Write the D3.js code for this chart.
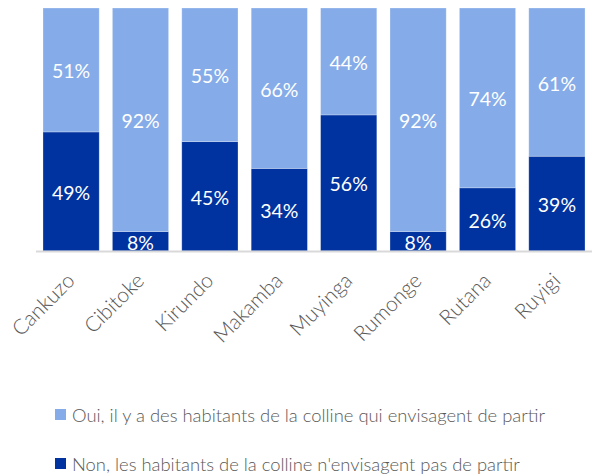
<!DOCTYPE html>
<html>
<head>
<meta charset="utf-8">
<script src="https://cdn.jsdelivr.net/npm/d3@7"></script>
<style>
  html, body { margin: 0; padding: 0; background: #ffffff; }
  svg { display: block; font-family: Lato, "Open Sans", sans-serif; }
</style>
</head>
<body>
<div id="chart"></div>
<script>
// provinces
const provinces = ['Cankuzo', 'Cibitoke', 'Kirundo', 'Makamba', 'Muyinga', 'Rumonge', 'Rutana', 'Ruyigi'];
// % "Non" (bottom segment)
const nonValues = [49, 8, 45, 34, 56, 8, 26, 39];
// % "Oui" (top segment)
const ouiValues = [51, 92, 55, 66, 44, 92, 74, 61];
const seriesNames = [
    'Oui, il y a des habitants de la colline qui envisagent de partir',
    "Non, les habitants de la colline n'envisagent pas de partir",
];

const width = 596;
const height = 476;
const colors = { oui: '#85ace8', non: '#0033a0' };

const svg = d3.select('#chart')
    .append('svg')
    .attr('width', width)
    .attr('height', height);

const x = d3.scaleBand()
    .domain(provinces)
    .range([36.4, 591.6])
    .paddingInner(0.19)
    .paddingOuter(0.095);

const y = d3.scaleLinear()
    .domain([0, 100])
    .range([251, 8]);

// build stacked rows
const rows = provinces.map((p, i) => ({ province: p, non: nonValues[i], oui: ouiValues[i] }));
const stack = d3.stack().keys(['non', 'oui'])(rows);

const layers = svg.selectAll('g.layer')
    .data(stack)
    .enter()
    .append('g')
    .attr('class', 'layer')
    .attr('fill', (d) => colors[d.key]);

layers.selectAll('rect')
    .data((d) => d)
    .enter()
    .append('rect')
    .attr('x', (d) => x(d.data.province))
    .attr('y', (d) => y(d[1]))
    .attr('width', x.bandwidth())
    .attr('height', (d) => y(d[0]) - y(d[1]))
    .attr('stroke', '#ffffff')
    .attr('stroke-opacity', 0.35)
    .attr('stroke-width', 0.75);

// value labels in the middle of each segment
layers.selectAll('text')
    .data((d) => d)
    .enter()
    .append('text')
    .attr('x', (d) => x(d.data.province) + x.bandwidth() / 2)
    .attr('y', (d) => (y(d[0]) + y(d[1])) / 2 + 1)
    .attr('text-anchor', 'middle')
    .attr('dominant-baseline', 'central')
    .style('font-size', '19.5px')
    .style('fill', '#ffffff')
    .text((d) => `${d[1] - d[0]}%`);

// x axis
const xAxis = svg.append('g')
    .attr('transform', `translate(0,${y(0)})`)
    .call(d3.axisBottom(x).tickSize(0).tickPadding(0));
xAxis.select('.domain')
    .attr('d', `M36,0.5H592`)
    .attr('stroke', '#d9d9d9')
    .attr('stroke-width', 2);
xAxis.selectAll('.tick text')
    .attr('transform', 'translate(5,31) rotate(-45)')
    .attr('dy', 0)
    .attr('y', 0)
    .attr('x', 0)
    .attr('text-anchor', 'end')
    .style('font-family', 'Lato, "Open Sans", sans-serif')
    .style('font-size', '21px')
    .style('font-weight', 300)
    .style('fill', '#595959');

// legend
const legend = svg.append('g')
    .selectAll('g')
    .data(seriesNames)
    .enter()
    .append('g')
    .attr('transform', (d, i) => `translate(55,${409 + i * 49})`);
legend.append('rect')
    .attr('width', 11)
    .attr('height', 11)
    .attr('fill', (d, i) => (i === 0 ? colors.oui : colors.non));
legend.append('text')
    .attr('x', 17)
    .attr('y', 6)
    .attr('dominant-baseline', 'central')
    .style('font-size', '18.4px')
    .style('font-weight', 300)
    .style('fill', '#595959')
    .text((d) => d);
</script>
</body>
</html>
